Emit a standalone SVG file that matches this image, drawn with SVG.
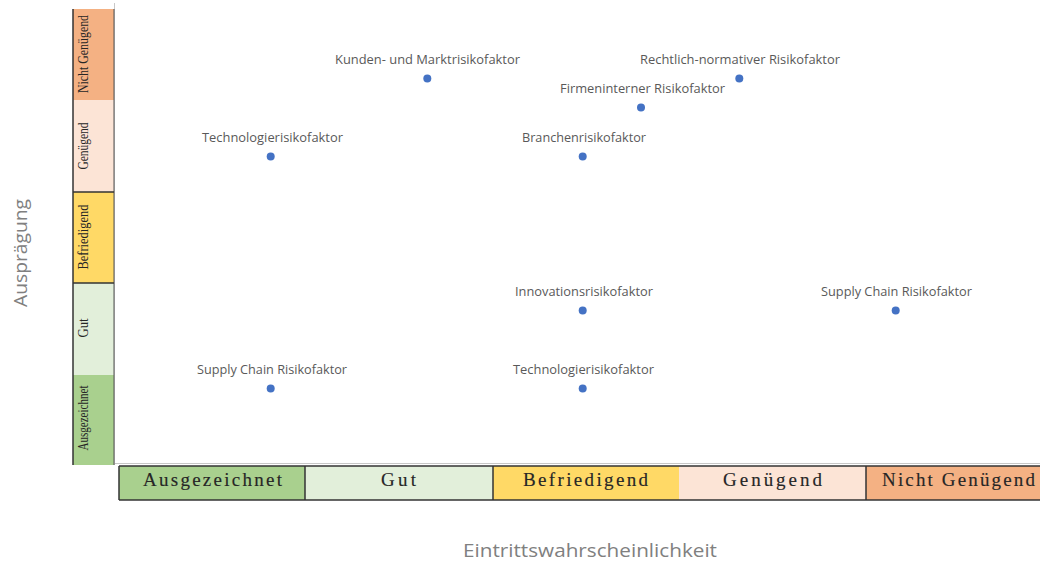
<svg xmlns="http://www.w3.org/2000/svg" width="1040" height="561" viewBox="0 0 1040 561">
  <style>
    .lbl { font-family: "Open Sans", "Liberation Sans", sans-serif; font-size: 12px; fill: #595959; text-anchor: middle; }
    .dot { fill: #4472C4; }
    .bar { font-family: "Liberation Serif", serif; font-size: 19px; fill: #262626; text-anchor: middle; stroke: #262626; stroke-width: 0.15; }
    .vbar { font-family: "Liberation Serif", serif; font-size: 14px; fill: #262626; text-anchor: middle; }
    .axis { font-family: "Open Sans", "Liberation Sans", sans-serif; font-size: 18px; fill: #808080; text-anchor: middle; }
    .dark { stroke: #333333; stroke-width: 1.5; fill: none; }
    .grid { stroke: #c8c8c8; stroke-width: 1; fill: none; }
  </style>
  <rect x="0" y="0" width="1040" height="561" fill="#ffffff"/>

  <!-- plot axes -->
  <g id="axes">
    <line class="grid" x1="114.5" y1="3" x2="114.5" y2="465"/>
    <line class="grid" x1="114.5" y1="463.5" x2="1040" y2="463.5"/>
  </g>

  <!-- vertical scale bar -->
  <g id="y-scale">
    <rect x="73" y="9" width="41" height="91" fill="#F4B183"/>
    <rect x="73" y="100" width="41" height="92" fill="#FCE4D6"/>
    <rect x="73" y="192" width="41" height="91" fill="#FFD966"/>
    <rect x="73" y="283" width="41" height="92" fill="#E2EFDA"/>
    <rect x="73" y="375" width="41" height="90" fill="#A9D08E"/>
    <line class="dark" x1="73" y1="9" x2="73" y2="465"/>
    <line x1="114" y1="9" x2="114" y2="465" stroke="#555555" stroke-width="1"/>
    <line class="dark" x1="73" y1="192" x2="114" y2="192"/>
    <line class="dark" x1="73" y1="283" x2="114" y2="283"/>
    <text class="vbar" transform="translate(88,54) rotate(-90)" textLength="78" lengthAdjust="spacingAndGlyphs">Nicht Genügend</text>
    <text class="vbar" transform="translate(88,146) rotate(-90)" textLength="47" lengthAdjust="spacingAndGlyphs">Genügend</text>
    <text class="vbar" transform="translate(88,237) rotate(-90)" textLength="65" lengthAdjust="spacingAndGlyphs">Befriedigend</text>
    <text class="vbar" transform="translate(88,328) rotate(-90)" textLength="19" lengthAdjust="spacingAndGlyphs">Gut</text>
    <text class="vbar" transform="translate(88,418) rotate(-90)" textLength="65" lengthAdjust="spacingAndGlyphs">Ausgezeichnet</text>
  </g>

  <!-- horizontal scale bar -->
  <g id="x-scale">
    <rect x="119" y="466" width="186" height="34" fill="#A9D08E"/>
    <rect x="305" y="466" width="188" height="34" fill="#E2EFDA"/>
    <rect x="493" y="466" width="186" height="34" fill="#FFD966"/>
    <rect x="679" y="466" width="187" height="34" fill="#FCE4D6"/>
    <rect x="866" y="466" width="174" height="34" fill="#F4B183"/>
    <line class="dark" x1="119" y1="466" x2="1040" y2="466"/>
    <line class="dark" x1="119" y1="500" x2="1040" y2="500"/>
    <line class="dark" x1="119" y1="466" x2="119" y2="500"/>
    <line class="dark" x1="305" y1="466" x2="305" y2="500"/>
    <line class="dark" x1="493" y1="466" x2="493" y2="500"/>
    <line class="dark" x1="866" y1="466" x2="866" y2="500"/>
    <text class="bar" x="212.5" y="486" textLength="139" lengthAdjust="spacing">Ausgezeichnet</text>
    <text class="bar" x="398.5" y="486" textLength="35" lengthAdjust="spacing">Gut</text>
    <text class="bar" x="585.5" y="486" textLength="125" lengthAdjust="spacing">Befriedigend</text>
    <text class="bar" x="772.5" y="486" textLength="99" lengthAdjust="spacing">Genügend</text>
    <text class="bar" x="958.5" y="486" textLength="153" lengthAdjust="spacing">Nicht Genügend</text>
  </g>

  <!-- axis titles -->
  <g id="axis-titles">
    <text class="axis" transform="translate(27,253) rotate(-90)" textLength="108" lengthAdjust="spacingAndGlyphs">Ausprägung</text>
    <text class="axis" x="590" y="557" textLength="254" lengthAdjust="spacingAndGlyphs">Eintrittswahrscheinlichkeit</text>
  </g>

  <!-- data points -->
  <g id="p-kunden">
    <circle class="dot" cx="427.3" cy="78.5" r="4"/>
    <text class="lbl" x="427.5" y="64" textLength="185" lengthAdjust="spacingAndGlyphs">Kunden- und Marktrisikofaktor</text>
  </g>
  <g id="p-rechtlich">
    <circle class="dot" cx="739.3" cy="78.5" r="4"/>
    <text class="lbl" x="740" y="64" textLength="200" lengthAdjust="spacingAndGlyphs">Rechtlich-normativer Risikofaktor</text>
  </g>
  <g id="p-firmenintern">
    <circle class="dot" cx="641" cy="107.5" r="4"/>
    <text class="lbl" x="642.5" y="93" textLength="165" lengthAdjust="spacingAndGlyphs">Firmeninterner Risikofaktor</text>
  </g>
  <g id="p-technologie-1">
    <circle class="dot" cx="270.7" cy="156.5" r="4"/>
    <text class="lbl" x="272.5" y="142" textLength="141" lengthAdjust="spacingAndGlyphs">Technologierisikofaktor</text>
  </g>
  <g id="p-branche">
    <circle class="dot" cx="582.7" cy="156.5" r="4"/>
    <text class="lbl" x="584" y="142" textLength="124" lengthAdjust="spacingAndGlyphs">Branchenrisikofaktor</text>
  </g>
  <g id="p-innovation">
    <circle class="dot" cx="582.7" cy="310.5" r="4"/>
    <text class="lbl" x="584" y="296" textLength="138" lengthAdjust="spacingAndGlyphs">Innovationsrisikofaktor</text>
  </g>
  <g id="p-supply-2">
    <circle class="dot" cx="895.7" cy="310.5" r="4"/>
    <text class="lbl" x="896.5" y="296" textLength="151" lengthAdjust="spacingAndGlyphs">Supply Chain Risikofaktor</text>
  </g>
  <g id="p-supply-1">
    <circle class="dot" cx="270.7" cy="388.5" r="4"/>
    <text class="lbl" x="272" y="374" textLength="150" lengthAdjust="spacingAndGlyphs">Supply Chain Risikofaktor</text>
  </g>
  <g id="p-technologie-2">
    <circle class="dot" cx="582.7" cy="388.5" r="4"/>
    <text class="lbl" x="583.5" y="374" textLength="141" lengthAdjust="spacingAndGlyphs">Technologierisikofaktor</text>
  </g>
  <g id="connectors"/>
</svg>
